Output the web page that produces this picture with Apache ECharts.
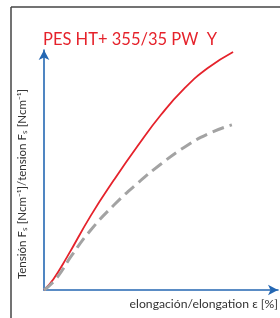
<!DOCTYPE html>
<html>
<head>
<meta charset="utf-8">
<script src="https://cdn.jsdelivr.net/npm/echarts@6/dist/echarts.min.js"></script>
<style>
  html, body { margin: 0; padding: 0; background: #fff; }
  #main { width: 280px; height: 318px; }
</style>
</head>
<body>
<div id="main"></div>
<script>
// curves (elongation %, tension % of axis height)
const redCurve = [
  [0, 0], [4, 4.5], [10, 14], [20, 31], [30, 46], [40, 60],
  [50, 73], [60, 84], [70, 92.5], [80.8, 99.2]
];
const grayCurve = [
  [0, 0], [5, 4.5], [12, 14.6], [20, 25], [30, 35.5], [40, 44.5],
  [50, 52.5], [60, 59.5], [70, 65], [80.3, 68.8]
];
const titleText = 'PES HT+ 355/35 PW  Y';
const yLabel = 'Tensión Fₛ [Ncm⁻¹]/tension Fₛ [Ncm⁻¹]';
const xLabel = 'elongación/elongation ε [%]';

const blue = '#2467b3';
let myChart = echarts.init(document.getElementById('main'));
let option = {
  animation: false,
  grid: { left: 44, right: 2, top: 50, bottom: 28 },
  xAxis: {
    type: 'value', min: 0, max: 100,
    axisLine: { show: true, symbol: ['none', 'arrow'], symbolSize: [8, 10],
      lineStyle: { color: blue, width: 1.6 } },
    axisTick: { show: false }, axisLabel: { show: false }, splitLine: { show: false }
  },
  yAxis: {
    type: 'value', min: 0, max: 100,
    axisLine: { show: true, symbol: ['none', 'arrow'], symbolSize: [8, 10],
      lineStyle: { color: blue, width: 1.6 } },
    axisTick: { show: false }, axisLabel: { show: false }, splitLine: { show: false }
  },
  graphic: [
    { type: 'line', shape: { x1: 11, y1: 7, x2: 280, y2: 7 }, style: { stroke: '#444', lineWidth: 1.5 } },
    { type: 'line', shape: { x1: 11, y1: 7, x2: 11, y2: 318 }, style: { stroke: '#444', lineWidth: 1.5 } },
    { type: 'text', left: 43, top: 31, style: { text: titleText, fill: '#e5222b',
        font: '16.5px Lato, sans-serif' } },
    { type: 'text', x: 22, y: 184, rotation: Math.PI / 2,
      style: { text: yLabel, fill: '#333', align: 'center', verticalAlign: 'middle',
        font: '11.5px Lato, sans-serif' } },
    { type: 'text', x: 278, y: 304,
      style: { text: xLabel, fill: '#333', align: 'right', verticalAlign: 'middle',
        font: '12.2px Lato, sans-serif' } }
  ],
  series: [
    { type: 'line', data: redCurve, smooth: 0.5, showSymbol: false,
      lineStyle: { color: '#e5222b', width: 1.8 } },
    { type: 'line', data: grayCurve, smooth: 0.5, showSymbol: false,
      lineStyle: { color: '#a3a3a3', width: 3, type: [12, 6] } }
  ]
};
myChart.setOption(option);
</script>
</body>
</html>
